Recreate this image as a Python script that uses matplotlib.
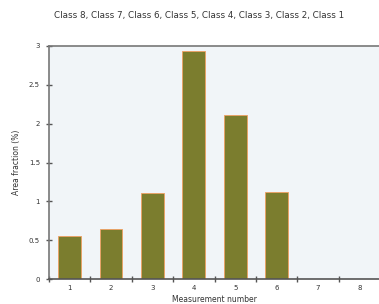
import matplotlib.pyplot as plt
import numpy as np

measurements = [1, 2, 3, 4, 5, 6, 7, 8]
area_fraction = [0.55, 0.64, 1.11, 2.94, 2.11, 1.12, 0, 0]
y_ticks = [0, 0.5, 1, 1.5, 2, 2.5, 3]
y_labels = ['0', '0.5', '1', '1.5', '2', '2.5', '3']

fig = plt.figure(figsize=(3.79, 3.04), dpi=100)
ax = fig.add_axes([49 / 379, 25 / 304, 331 / 379, 233 / 304])
ax.set_facecolor('#f1f5f8')

x = np.arange(len(measurements))
ax.bar(x, area_fraction, width=0.55, color='#7b7d2e', edgecolor='#f0a060', linewidth=0.6)

ax.set_xlim(-0.5, len(measurements) - 0.5)
ax.set_ylim(0, 3)
ax.set_yticks(y_ticks)
ax.set_yticklabels(y_labels)
ax.set_xticks(x)
ax.set_xticklabels([str(m) for m in measurements])
ax.set_xticks(np.arange(len(measurements) + 1) - 0.5, minor=True)
ax.tick_params(axis='x', which='major', length=0, labelsize=5, colors='#333333', pad=4)
ax.tick_params(axis='x', which='minor', length=5, direction='inout', color='#555555', width=1)
ax.tick_params(axis='y', length=5, direction='inout', color='#555555', width=1,
               labelsize=5, labelcolor='#333333', pad=4)

for side in ['left', 'bottom', 'top']:
    ax.spines[side].set_color('#777777')
    ax.spines[side].set_linewidth(1.2)
ax.spines['bottom'].set_color('#555555')
ax.spines['right'].set_visible(False)

ax.set_xlabel('Measurement number', fontsize=5.5, color='#333333', labelpad=3)
ax.set_ylabel('Area fraction (%)', fontsize=5.5, color='#333333', labelpad=6)
fig.text(0.525, 0.94, 'Class 8, Class 7, Class 6, Class 5, Class 4, Class 3, Class 2, Class 1',
         ha='center', fontsize=6.3, color='#333333')

fig.savefig('out.png', dpi=100, facecolor='white')
